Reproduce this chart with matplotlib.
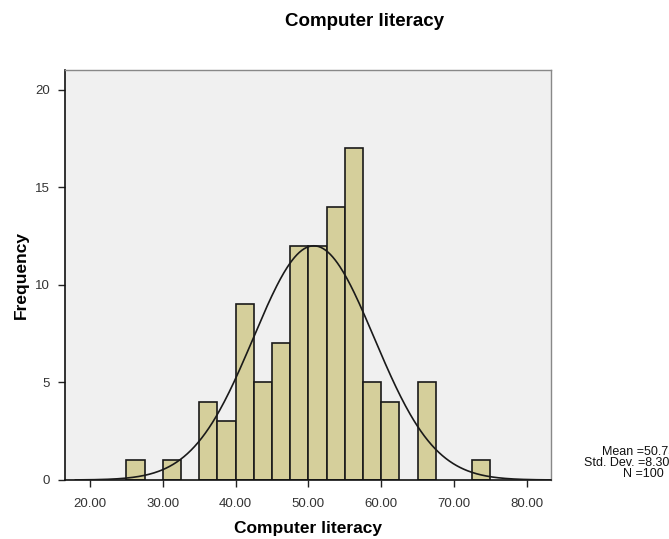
import numpy as np
import matplotlib
matplotlib.use("Agg")
import matplotlib.pyplot as plt

plt.rcParams['font.family'] = ['Liberation Sans', 'DejaVu Sans']

# histogram of scores, bins 2.5 wide from 25 to 75
bin_left = [25.0, 27.5, 30.0, 32.5, 35.0, 37.5, 40.0, 42.5, 45.0, 47.5,
            50.0, 52.5, 55.0, 57.5, 60.0, 62.5, 65.0, 67.5, 70.0, 72.5]
counts = [1, 0, 1, 0, 4, 3, 9, 5, 7, 12,
          12, 14, 17, 5, 4, 0, 5, 0, 0, 1]
bin_width = 2.5

mean = 50.75
std_dev = 8.306
n_total = 100

x_ticks = [20, 30, 40, 50, 60, 70, 80]
y_ticks = [0, 5, 10, 15, 20]

W, H = 669, 539
fig = plt.figure(figsize=(W / 100, H / 100), dpi=100)
ax = fig.add_axes([65 / W, 59 / H, 486 / W, 410 / H])
ax.set_facecolor('#f0f0f0')

for left, c in zip(bin_left, counts):
    if c > 0:
        ax.bar(left, c, width=bin_width, align='edge', color='#d5cf9b',
               edgecolor='#1a1a1a', linewidth=1.2, zorder=2)

# fitted normal curve scaled to counts
xs = np.linspace(18, 83.3, 400)
ys = n_total * bin_width * np.exp(-0.5 * ((xs - mean) / std_dev) ** 2) / (std_dev * np.sqrt(2 * np.pi))
ax.plot(xs, ys, color='#1a1a1a', linewidth=1.2, zorder=3)

ax.set_xlim(16.57, 83.34)
ax.set_ylim(0, 21.02)
ax.set_xticks(x_ticks)
ax.set_xticklabels(['%.2f' % v for v in x_ticks])
ax.set_yticks(y_ticks)
ax.tick_params(direction='out', length=5, width=1, colors='#222222',
               labelsize=9.5, labelcolor='#333333')
ax.tick_params(axis='x', pad=8)
ax.tick_params(axis='y', pad=6)

for side in ['left', 'bottom']:
    ax.spines[side].set_color('#111111')
    ax.spines[side].set_linewidth(1.2)
for side in ['top', 'right']:
    ax.spines[side].set_color('#888888')
    ax.spines[side].set_linewidth(1.0)

ax.set_xlabel('Computer literacy', fontsize=12.5, fontweight='bold', labelpad=8)
ax.set_ylabel('Frequency', fontsize=12.5, fontweight='bold', labelpad=4)

fig.text(365 / W, 1 - 22 / H, 'Computer literacy', ha='center', va='center',
         fontsize=13.5, fontweight='bold')

# summary statistics, running off the right edge
stats = ['Mean =%.2f' % mean, 'Std. Dev. =%.3f' % std_dev, 'N =%d' % n_total]
starts = [602, 584, 623]
baselines = [455, 466, 477]
for s, x0, yb in zip(stats, starts, baselines):
    fig.text(x0 / W, 1 - yb / H, s, ha='left', va='baseline',
             fontsize=9, color='#111111')

fig.savefig('out.png', dpi=100)
